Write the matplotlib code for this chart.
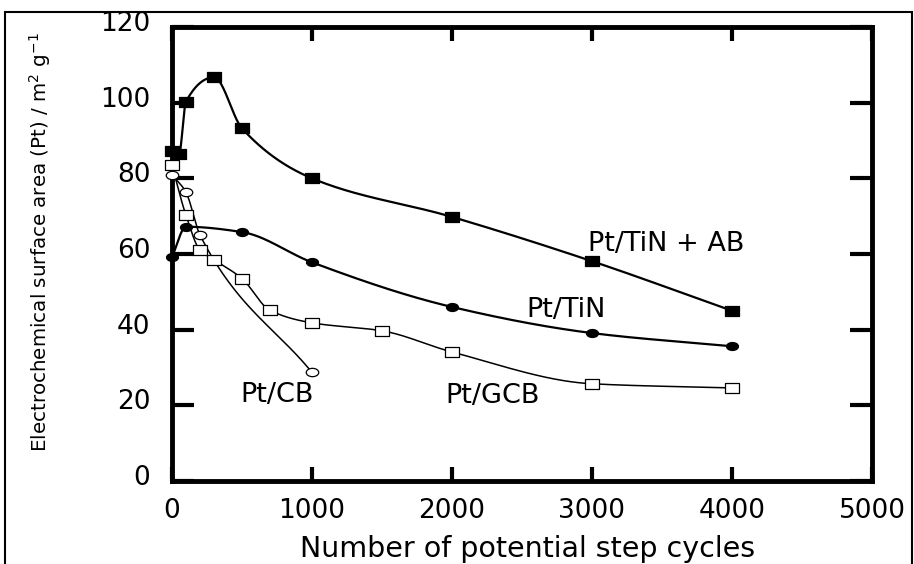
import numpy as np
import matplotlib
matplotlib.use("Agg")
import matplotlib.pyplot as plt
from matplotlib.path import Path
from matplotlib.patches import Rectangle
import matplotlib.transforms as mtransforms

# ---- data ----
cycles_tin_ab = [0, 50, 100, 300, 500, 1000, 2000, 3000, 4000]
esa_tin_ab = [87.2, 86.4, 100.3, 106.7, 93.2, 80.0, 69.8, 58.1, 45.0]

cycles_tin = [0, 100, 500, 1000, 2000, 3000, 4000]
esa_tin = [59.2, 67.2, 65.8, 57.8, 46.0, 39.1, 35.6]

cycles_gcb = [0, 100, 200, 300, 500, 700, 1000, 1500, 2000, 3000, 4000]
esa_gcb = [83.4, 70.2, 61.0, 58.5, 53.5, 45.1, 41.8, 39.7, 34.1, 25.7, 24.6]

cycles_cb = [0, 100, 200, 1000]
esa_cb = [81.0, 76.3, 65.0, 28.7]

series_labels = ["Pt/TiN + AB", "Pt/TiN", "Pt/GCB", "Pt/CB"]
label_pos_x = [3530, 2814, 2293, 750]
label_pos_y = [60.7, 43.4, 20.7, 20.9]

x_ticks = [0, 1000, 2000, 3000, 4000, 5000]
y_ticks = [0, 20, 40, 60, 80, 100, 120]


def smooth(x, y, n=60):
    """Monotone piecewise-cubic (PCHIP-like) curve through the data points."""
    x = np.asarray(x, float)
    y = np.asarray(y, float)
    h = np.diff(x)
    d = np.diff(y) / h
    m = np.empty_like(y)
    m[0] = d[0]
    m[-1] = d[-1]
    for k in range(1, len(x) - 1):
        if d[k - 1] * d[k] <= 0:
            m[k] = 0.0
        else:
            w1 = 2 * h[k] + h[k - 1]
            w2 = h[k] + 2 * h[k - 1]
            m[k] = (w1 + w2) / (w1 / d[k - 1] + w2 / d[k])
    xs, ys = [], []
    for i in range(len(x) - 1):
        t = np.linspace(0, 1, n, endpoint=(i == len(x) - 2))
        h00 = 2 * t**3 - 3 * t**2 + 1
        h10 = t**3 - 2 * t**2 + t
        h01 = -2 * t**3 + 3 * t**2
        h11 = t**3 - t**2
        xs.append(x[i] + t * h[i])
        ys.append(h00 * y[i] + h10 * h[i] * m[i] + h01 * y[i + 1] + h11 * h[i] * m[i + 1])
    return np.concatenate(xs), np.concatenate(ys)


# wide (stretched) markers like in the reference
rect_marker = Path([(-1.45, -1), (1.45, -1), (1.45, 1), (-1.45, 1), (-1.45, -1)],
                   [Path.MOVETO, Path.LINETO, Path.LINETO, Path.LINETO, Path.CLOSEPOLY])
uc = Path.unit_circle()
ell_marker = Path(uc.vertices * np.array([1.5, 1.0]), uc.codes)

fig = plt.figure(figsize=(9.14, 5.64), dpi=100)
ax = fig.add_axes([172 / 914, 1 - 481 / 564, 700 / 914, (481 - 27) / 564])

series = [
    (cycles_tin_ab, esa_tin_ab, rect_marker, 'black', 9.5, 1.6),
    (cycles_tin, esa_tin, ell_marker, 'black', 8.6, 1.6),
    (cycles_gcb, esa_gcb, rect_marker, 'white', 9.5, 1.1),
    (cycles_cb, esa_cb, ell_marker, 'white', 9.0, 1.1),
]
for xs, ys, mk, fc, ms, lw in series:
    sx, sy = smooth(xs, ys)
    ax.plot(sx, sy, color='black', lw=lw, zorder=2, clip_on=False)
    ax.plot(xs, ys, ls='none', marker=mk, ms=ms, mfc=fc, mec='black',
            mew=0.9, zorder=3, clip_on=False)

for lab, lx, ly in zip(series_labels, label_pos_x, label_pos_y):
    ax.text(lx, ly, lab, ha='center', va='baseline', fontsize=19.5,
            family='DejaVu Sans', zorder=4)

ax.set_xlim(0, 5000)
ax.set_ylim(0, 120)
ax.set_xticks(x_ticks)
ax.set_yticks(y_ticks)
ax.set_xticklabels([str(v) for v in x_ticks])
ax.set_yticklabels([str(v) for v in y_ticks])

for s in ax.spines.values():
    s.set_linewidth(3.5)
ax.tick_params(axis='x', direction='in', length=10, width=3, top=True,
               labelsize=19, pad=12)
ax.tick_params(axis='y', direction='in', length=16, width=3, right=True,
               labelsize=19, pad=15.5)

# y tick labels sit slightly above their ticks in the reference
off = mtransforms.ScaledTranslation(0, 0.06, fig.dpi_scale_trans)
for t in ax.yaxis.get_major_ticks():
    t.label1.set_transform(t.label1.get_transform() + off)

fig.text(528 / 914, 1 - 557 / 564, "Number of potential step cycles",
         ha='center', va='baseline', fontsize=20.5)
fig.text(47 / 914, 1 - 242 / 564,
         r"Electrochemical surface area (Pt) / m$^{2}$ g$^{-1}$",
         rotation=90, rotation_mode='anchor', ha='center', va='baseline',
         fontsize=14.3)

# outer frame of the picture (bottom edge is cut off)
fig.patches.append(Rectangle((5 / 914, -0.05), 907 / 914, 1.05 - 12 / 564,
                             transform=fig.transFigure, fill=False,
                             lw=1.5, ec='black'))

fig.savefig("out.png", dpi=100)
